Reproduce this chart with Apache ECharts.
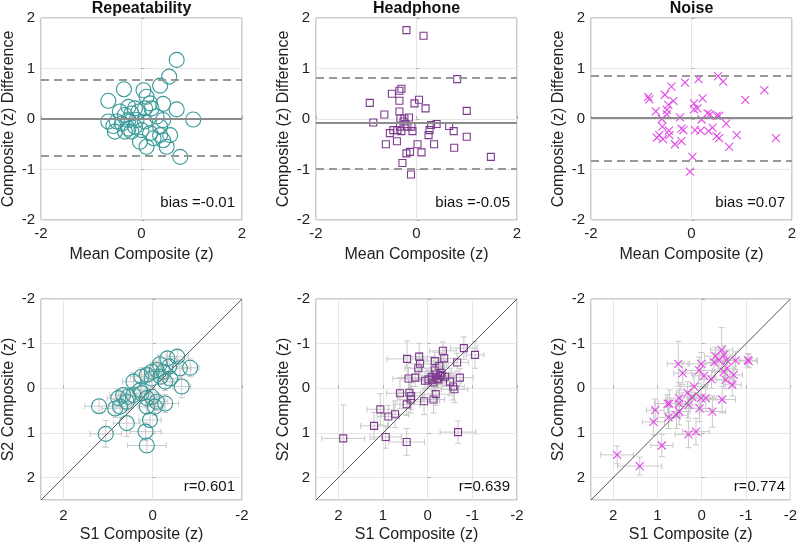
<!DOCTYPE html>
<html>
<head>
<meta charset="utf-8">
<script src="https://cdn.jsdelivr.net/npm/echarts@6/dist/echarts.min.js"></script>
<style>
  html, body { margin: 0; padding: 0; background: #fff; }
  #chart { width: 800px; height: 549px; }
</style>
</head>
<body>
<div id="chart"></div>
<script>
// Bland-Altman (top row): mean vs difference
const repMean = [0.70,0.55,0.37,-0.35,0.04,0.10,-0.66,0.43,0.70,1.03,-0.26,-0.13,0.17,0.20,0.07,-0.43,-0.33,-0.20,-0.06,-0.49,-0.66,-0.56,-0.39,-0.26,-0.10,0.30,0.43,-0.26,-0.33,-0.20,-0.13,0.00,0.17,0.37,0.57,0.43,0.24,-0.03,0.10,0.50,0.77,-0.53,0.37,0.07]
const repDiff = [1.17,0.84,0.66,0.59,0.57,0.44,0.36,0.30,0.19,-0.01,0.24,0.21,0.31,0.21,0.21,0.15,0.08,0.11,0.15,-0.05,-0.05,-0.14,-0.09,-0.02,-0.02,0.05,-0.02,-0.19,-0.25,-0.25,-0.15,-0.22,-0.28,-0.32,-0.32,-0.42,-0.38,-0.45,-0.55,-0.55,-0.75,-0.25,-0.15,-0.05]
const hpMean = [-0.20,0.14,0.81,-0.30,-0.34,-0.49,-0.93,-0.34,0.05,-0.04,0.18,1.00,-0.64,-0.34,-0.32,-0.24,-0.15,-0.86,-0.26,-0.22,-0.33,-0.18,-0.10,-0.46,-0.38,-0.30,-0.08,-0.53,0.26,0.29,0.40,0.65,0.74,0.24,1.00,-0.61,-0.39,0.02,0.35,0.75,-0.13,-0.20,0.10,-0.28,1.48,-0.11]
const hpDiff = [1.76,1.65,0.79,0.60,0.56,0.50,0.32,0.36,0.38,0.31,0.21,0.16,0.09,0.15,0.01,0.01,0.03,-0.07,-0.05,-0.10,-0.15,-0.15,-0.15,-0.22,-0.22,-0.24,-0.24,-0.28,-0.22,-0.12,-0.10,-0.14,-0.24,-0.32,-0.35,-0.50,-0.44,-0.50,-0.50,-0.57,-0.65,-0.68,-0.66,-0.87,-0.75,-1.10]
const nzMean = [0.53,0.63,0.14,-0.13,-0.40,1.45,-0.86,-0.84,-0.53,-0.36,0.22,1.07,-0.46,0.05,0.12,-0.49,-0.71,-0.49,-0.59,-0.23,0.20,0.32,0.37,0.50,0.55,0.69,-0.58,-0.45,-0.20,-0.16,0.07,0.18,0.34,0.42,-0.69,-0.57,-0.44,-0.33,-0.20,0.50,0.55,0.90,0.75,1.68,0.02,-0.03,0.05,-0.64]
const nzDiff = [0.85,0.74,0.79,0.72,0.64,0.57,0.44,0.39,0.48,0.36,0.41,0.38,0.28,0.31,0.21,0.18,0.15,0.09,0.00,0.03,-0.01,0.11,0.09,0.06,0.06,-0.09,-0.15,-0.23,-0.19,-0.22,-0.22,-0.23,-0.24,-0.17,-0.37,-0.40,-0.32,-0.50,-0.44,-0.34,-0.38,-0.32,-0.55,-0.38,-0.75,-1.04,0.19,-0.32]

// bias line, upper and lower limits of agreement
const repLimits = [0.01, 0.78, -0.73]
const hpLimits = [-0.08, 0.81, -0.99]
const nzLimits = [0.02, 0.85, -0.82]

// session 1 vs session 2 (bottom row), with error half-widths
const repS1 = [-0.84,-0.55,-0.33,-0.16,-0.37,-0.09,-0.24,0.02,0.13,0.25,-0.18,0.02,-0.39,-0.61,-0.28,-0.65,0.43,0.66,0.55,0.77,0.43,0.73,0.84,0.58,0.25,0.13,0.02,-0.09,-0.28,0.13,-0.05,1.20,0.58,0.06,0.16,0.13,1.05,0.28]
const repS2 = [-0.46,-0.71,-0.67,-0.54,-0.49,-0.41,-0.37,-0.37,-0.30,-0.26,-0.26,-0.22,-0.22,-0.45,-0.15,-0.04,-0.15,0.15,0.19,0.22,0.15,0.41,0.45,0.30,0.11,0.22,0.19,0.30,0.34,0.41,0.41,0.40,0.78,0.71,0.97,1.28,1.02,0.04]
const repS1Err = [0.20,0.25,0.2,0.15,0.2,0.15,0.2,0.15,0.2,0.25,0.15,0.2,0.2,0.25,0.2,0.2,0.25,0.3,0.2,0.25,0.3,0.25,0.3,0.2,0.2,0.2,0.2,0.25,0.3,0.2,0.2,0.32,0.3,0.25,0.35,0.43,0.35,0.2]
const repS2Err = [0.2,0.15,0.15,0.2,0.15,0.2,0.15,0.2,0.15,0.2,0.15,0.2,0.15,0.2,0.2,0.25,0.2,0.15,0.2,0.2,0.2,0.25,0.2,0.2,0.15,0.2,0.2,0.2,0.2,0.15,0.2,0.15,0.3,0.15,0.2,0.15,0.3,0.15]

const hpS1 = [-0.81,-1.06,-0.34,0.19,0.46,-0.37,-0.16,0.17,-0.26,-0.66,0.21,-0.16,-0.29,-0.19,-0.09,-0.02,0.06,-0.31,-0.39,-0.13,-0.24,-0.72,-0.50,0.28,0.43,-0.57,-0.60,0.62,0.41,0.37,0.38,0.47,0.08,-0.13,-0.18,1.06,0.73,0.88,1.20,1.89,0.94,0.47,-0.68,-0.21,-0.28,-0.10]
const hpS2 = [-0.90,-0.75,-0.84,-0.71,-0.66,-0.67,-0.61,-0.55,-0.50,-0.58,-0.45,-0.40,-0.35,-0.31,-0.25,-0.20,-0.17,-0.30,-0.26,-0.13,-0.20,-0.24,-0.15,-0.24,-0.22,-0.04,0.02,0.11,0.10,0.17,0.25,0.36,0.29,0.25,0.13,0.47,0.58,0.63,0.84,1.12,1.09,1.20,0.98,-0.22,-0.28,-0.18]
const hpS1Err = [0.3,0.2,0.3,0.35,0.45,0.3,0.25,0.3,0.2,0.25,0.3,0.2,0.25,0.2,0.2,0.2,0.25,0.2,0.2,0.2,0.2,0.3,0.25,0.3,0.35,0.25,0.3,0.3,0.25,0.3,0.3,0.3,0.35,0.25,0.3,0.3,0.3,0.25,0.3,0.48,0.35,0.4,0.4,0.2,0.2,0.2]
const hpS2Err = [0.25,0.3,0.2,0.3,0.4,0.25,0.2,0.25,0.3,0.2,0.25,0.2,0.2,0.25,0.2,0.2,0.2,0.2,0.2,0.2,0.2,0.2,0.3,0.2,0.25,0.3,0.3,0.35,0.3,0.3,0.3,0.25,0.3,0.3,0.25,0.35,0.3,0.25,0.3,0.75,0.25,0.3,0.25,0.2,0.2,0.2]

const nzS1 = [-0.45,-0.50,-0.31,-0.39,-0.28,-0.56,-0.76,-1.04,-1.06,0.01,0.53,0.06,0.43,-0.57,-0.50,-0.72,-0.05,-0.22,-0.54,-0.69,0.17,0.32,0.02,-0.09,-0.46,0.51,0.22,0.73,0.77,0.51,0.30,0.05,-0.24,1.05,0.51,0.57,1.09,0.75,0.30,0.13,0.90,1.91,1.40]
const nzS2 = [-0.86,-0.75,-0.72,-0.63,-0.58,-0.63,-0.62,-0.63,-0.61,-0.55,-0.55,-0.40,-0.34,-0.45,-0.37,-0.30,-0.28,-0.20,-0.19,-0.08,-0.04,0.10,0.22,0.22,0.25,0.22,0.19,0.34,0.34,0.34,0.37,0.45,0.52,0.49,0.52,0.60,0.75,0.65,1.03,0.97,1.28,1.49,1.74]
const nzS1Err = [0.25,0.2,0.25,0.2,0.2,0.2,0.25,0.2,0.2,0.3,0.25,0.3,0.2,0.2,0.2,0.2,0.25,0.3,0.2,0.2,0.3,0.25,0.3,0.25,0.3,0.3,0.25,0.25,0.3,0.25,0.3,0.3,0.3,0.2,0.25,0.25,0.25,0.25,0.3,0.3,0.25,0.37,0.5]
const nzS2Err = [0.5,0.2,0.2,0.25,0.2,0.2,0.2,0.15,0.15,0.25,0.5,0.3,0.25,0.2,0.2,0.2,0.25,0.2,0.2,0.25,0.3,0.25,0.25,0.3,0.3,0.35,0.25,0.3,0.2,0.3,0.3,0.3,0.35,0.25,0.3,0.3,0.3,0.25,0.3,0.3,0.25,0.2,0.2]

const titles = ['Repeatability', 'Headphone', 'Noise']
const biasLabels = ['bias =-0.01', 'bias =-0.05', 'bias =0.07']
const rLabels = ['r=0.601', 'r=0.639', 'r=0.774']
const identityRange = [-2, 2.5]
const bottomXInterval = [2, 1, 1]

const font = '"Liberation Sans", Arial, Helvetica, sans-serif'
const colors = ['#3a9a9a', '#7e3a8e', '#e24ae6']
const symbols = ['circle', 'rect', 'path://M0,0L10,10M10,0L0,10']
const symSizes = [15, 7, 8]
const panelLeft = [41, 316, 591]
const panelW = 201

const topSets = [[repMean, repDiff, repLimits], [hpMean, hpDiff, hpLimits], [nzMean, nzDiff, nzLimits]]
const botSets = [[repS1, repS2, repS1Err, repS2Err], [hpS1, hpS2, hpS1Err, hpS2Err], [nzS1, nzS2, nzS1Err, nzS2Err]]

function zip() {
    const arrs = Array.from(arguments)
    return arrs[0].map((v, k) => arrs.map(a => a[k]))
}

function makeAxis(o) {
    return {
        type: 'value',
        gridIndex: o.grid,
        min: o.min, max: o.max, interval: o.interval,
        inverse: !!o.inverse,
        name: o.name,
        nameLocation: 'middle',
        nameGap: o.nameGap,
        nameTextStyle: { color: '#222', fontSize: 16, fontFamily: font },
        axisLine: { show: false },
        axisTick: { show: true, inside: true, length: 3, lineStyle: { color: '#aaa' } },
        axisLabel: { color: '#222', fontSize: 15, fontFamily: font, margin: o.margin, showMaxLabel: o.showMax !== false },
        splitLine: { show: true, lineStyle: { color: '#e6e6e6', width: 1 } }
    }
}

function errRender(params, api) {
    const x = api.value(0), y = api.value(1), ex = api.value(2), ey = api.value(3)
    const c = api.coord([x, y])
    const l = api.coord([x - ex, y]), r = api.coord([x + ex, y])
    const t = api.coord([x, y - ey]), b = api.coord([x, y + ey])
    const cap = 3
    const style = { stroke: '#c9c9c9', lineWidth: 1 }
    return {
        type: 'group',
        children: [
            { type: 'line', shape: { x1: l[0], y1: c[1], x2: r[0], y2: c[1] }, style },
            { type: 'line', shape: { x1: l[0], y1: c[1] - cap, x2: l[0], y2: c[1] + cap }, style },
            { type: 'line', shape: { x1: r[0], y1: c[1] - cap, x2: r[0], y2: c[1] + cap }, style },
            { type: 'line', shape: { x1: c[0], y1: t[1], x2: c[0], y2: b[1] }, style },
            { type: 'line', shape: { x1: c[0] - cap, y1: t[1], x2: c[0] + cap, y2: t[1] }, style },
            { type: 'line', shape: { x1: c[0] - cap, y1: b[1], x2: c[0] + cap, y2: b[1] }, style }
        ]
    }
}

const grid = [], xAxis = [], yAxis = [], series = [], graphic = []

for (let i = 0; i < 3; i++) {
    grid.push({ left: panelLeft[i], top: 18, width: panelW, height: 202, show: true, borderColor: '#999', borderWidth: 1 })
    xAxis.push(makeAxis({ grid: i, min: -2, max: 2, interval: 2, name: 'Mean Composite (z)', nameGap: 27, margin: 6 }))
    yAxis.push(makeAxis({ grid: i, min: -2, max: 2, interval: 1, name: 'Composite (z) Difference', nameGap: 24, margin: 6 }))
}
for (let i = 0; i < 3; i++) {
    grid.push({ left: panelLeft[i], top: 299, width: panelW, height: 201, show: true, borderColor: '#999', borderWidth: 1 })
    xAxis.push(makeAxis({ grid: 3 + i, min: -2, max: 2.5, interval: bottomXInterval[i], inverse: true, name: 'S1 Composite (z)', nameGap: 27, margin: 8, showMax: false }))
    yAxis.push(makeAxis({ grid: 3 + i, min: -2, max: 2.5, interval: 1, inverse: true, name: 'S2 Composite (z)', nameGap: 24, margin: 6, showMax: false }))
}

const markerStyle = i => ({ color: 'transparent', borderColor: colors[i], borderWidth: 1.1, opacity: 1 })
const dash = { color: '#999', width: 2, type: [8, 5] }

for (let i = 0; i < 3; i++) {
    const [m, d, lim] = topSets[i]
    series.push({
        type: 'scatter', xAxisIndex: i, yAxisIndex: i,
        data: zip(m, d), symbol: symbols[i], symbolSize: symSizes[i],
        itemStyle: markerStyle(i), silent: true, z: 3,
        markLine: {
            silent: true, symbol: 'none', label: { show: false }, animation: false,
            data: [
                { yAxis: lim[0], lineStyle: { color: '#8c8c8c', width: 2, type: 'solid' } },
                { yAxis: lim[1], lineStyle: dash },
                { yAxis: lim[2], lineStyle: dash }
            ]
        }
    })

    const [s1, s2, e1, e2] = botSets[i]
    series.push({
        type: 'custom', xAxisIndex: 3 + i, yAxisIndex: 3 + i,
        data: zip(s1, s2, e1, e2), renderItem: errRender, clip: true, silent: true, z: 1,
        encode: { x: 0, y: 1 }
    })
    series.push({
        type: 'line', xAxisIndex: 3 + i, yAxisIndex: 3 + i,
        data: zip(identityRange, identityRange), symbol: 'none', silent: true, z: 2,
        lineStyle: { color: '#555', width: 1 }
    })
    series.push({
        type: 'scatter', xAxisIndex: 3 + i, yAxisIndex: 3 + i,
        data: zip(s1, s2), symbol: symbols[i], symbolSize: symSizes[i],
        itemStyle: markerStyle(i), silent: true, z: 3
    })

    const cx = panelLeft[i] + panelW / 2
    const rx = panelLeft[i] + panelW - 7
    graphic.push({ type: 'text', x: cx, y: 9, style: { text: titles[i], fill: '#111', font: 'bold 16px ' + font, align: 'center', verticalAlign: 'middle' } })
    graphic.push({ type: 'text', x: rx, y: 203, style: { text: biasLabels[i], fill: '#111', font: '15px ' + font, align: 'right', verticalAlign: 'middle' } })
    graphic.push({ type: 'text', x: rx, y: 487, style: { text: rLabels[i], fill: '#111', font: '15px ' + font, align: 'right', verticalAlign: 'middle' } })
}

const chart = echarts.init(document.getElementById('chart'), null, { renderer: 'canvas' })
chart.setOption({
    backgroundColor: '#fff',
    animation: false,
    grid, xAxis, yAxis, series, graphic
})
</script>
</body>
</html>
